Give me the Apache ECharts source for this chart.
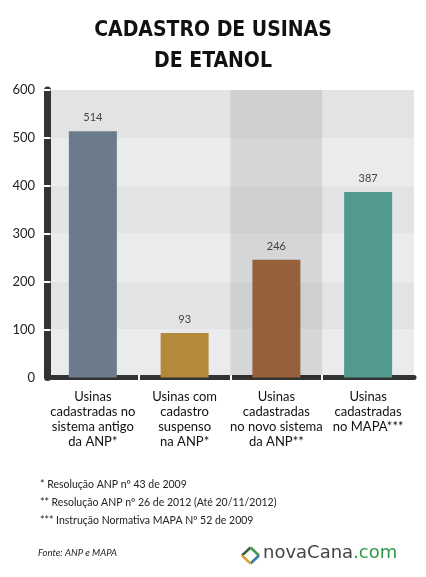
<!DOCTYPE html>
<html>
<head>
<meta charset="utf-8">
<script src="https://cdn.jsdelivr.net/npm/echarts@6/dist/echarts.min.js"></script>
<style>
  html, body { margin: 0; padding: 0; background: #fff; }
  #chart { width: 426px; height: 577px; }
</style>
</head>
<body>
<div id="chart"></div>
<script>
var categories = [
  'Usinas\ncadastradas no\nsistema antigo\nda ANP*',
  'Usinas com\ncadastro\nsuspenso\nna ANP*',
  'Usinas\ncadastradas\nno novo sistema\nda ANP**',
  'Usinas\ncadastradas\nno MAPA***'
];
var values = [514, 93, 246, 387];
var barColors = ['#6c7b8b', '#b5893a', '#96613b', '#529990'];
var yTicks = [0, 100, 200, 300, 400, 500, 600];
var notes = [
  '* Resolução ANP nº 43 de 2009',
  '** Resolução ANP nº 26 de 2012 (Até 20/11/2012)',
  '*** Instrução Normativa MAPA Nº 52 de 2009'
];
var source = 'Fonte: ANP e MAPA';

var chart = echarts.init(document.getElementById('chart'));

var gridLeft = 47, gridBottom = 199.5;
var yLineW = 7, xLineW = 5;

var option = {
  animation: false,
  backgroundColor: '#ffffff',
  title: {
    text: 'CADASTRO DE USINAS\nDE ETANOL',
    left: 'center',
    top: 10,
    textStyle: {
      fontFamily: 'DejaVu Sans Condensed',
      fontWeight: 'bold',
      fontSize: 21,
      lineHeight: 31,
      color: '#111'
    }
  },
  tooltip: {
    trigger: 'axis',
    showContent: false,
    triggerOn: 'none',
    axisPointer: {
      type: 'shadow',
      shadowStyle: { color: 'rgba(0,0,0,0.085)' }
    }
  },
  grid: { left: gridLeft, right: 12, top: 90, bottom: gridBottom },
  xAxis: {
    type: 'category',
    data: categories,
    axisLine: { lineStyle: { color: '#333', width: xLineW } },
    axisTick: { show: false },
    axisLabel: {
      interval: 0,
      margin: 12,
      fontFamily: 'Lato',
      fontSize: 13,
      lineHeight: 15,
      color: '#111'
    }
  },
  yAxis: {
    type: 'value',
    min: yTicks[0],
    max: yTicks[yTicks.length - 1],
    interval: 100,
    axisLine: { show: true, lineStyle: { color: '#333', width: yLineW } },
    axisTick: { show: false },
    axisLabel: {
      margin: 12,
      fontFamily: 'Lato',
      fontSize: 13,
      color: '#222'
    },
    splitLine: { show: false },
    splitArea: {
      show: true,
      areaStyle: { color: ['#eaebed', '#e2e3e5'] }
    }
  },
  series: [
    {
      type: 'bar',
      barWidth: 48,
      data: values.map(function (v, i) {
        return { value: v, itemStyle: { color: barColors[i] } };
      }),
      label: {
        show: true,
        position: 'top',
        distance: 8,
        fontFamily: 'Lato',
        fontSize: 11,
        color: '#444'
      }
    }
  ],
  graphic: [
    { type: 'text', left: 40, top: 479, style: { text: notes[0], font: '10.5px Lato', fill: '#222' } },
    { type: 'text', left: 40, top: 497, style: { text: notes[1], font: '10.5px Lato', fill: '#222' } },
    { type: 'text', left: 40, top: 515, style: { text: notes[2], font: '10.5px Lato', fill: '#222' } },
    { type: 'text', left: 38, top: 548, style: { text: source, font: 'italic 9.5px Lato', fill: '#222' } },
    { type: 'line', shape: { x1: 242, y1: 555.5, x2: 250.5, y2: 547.5 }, style: { stroke: '#3d5c44', lineWidth: 2.5 } },
    { type: 'line', shape: { x1: 250.5, y1: 547.5, x2: 259, y2: 555.5 }, style: { stroke: '#3a9a4a', lineWidth: 2.5 } },
    { type: 'line', shape: { x1: 259, y1: 555.5, x2: 250.5, y2: 563.5 }, style: { stroke: '#2f7ea0', lineWidth: 2.5 } },
    { type: 'line', shape: { x1: 250.5, y1: 563.5, x2: 242, y2: 555.5 }, style: { stroke: '#e0a030', lineWidth: 2.5 } },
    {
      type: 'text', left: 263, top: 544,
      style: {
        text: '{a|novaCana}{b|.com}',
        rich: {
          a: { fontFamily: 'DejaVu Sans', fontSize: 18, fill: '#444' },
          b: { fontFamily: 'DejaVu Sans', fontSize: 18, fill: '#2e9a4c' }
        }
      }
    }
  ]
};

chart.setOption(option);

// white notches cut into the thick axis lines, placed from the axes' own scales
var notches = [];
var axisY = 577 - gridBottom;
yTicks.slice(1).forEach(function (t) {
  var py = Math.round(chart.convertToPixel({ yAxisIndex: 0 }, t));
  notches.push({
    type: 'line', z: 100, silent: true,
    shape: { x1: gridLeft - yLineW / 2, y1: py, x2: gridLeft + yLineW / 2, y2: py },
    style: { stroke: '#fff', lineWidth: 2 }
  });
});
for (var i = 0; i < categories.length - 1; i++) {
  var a = chart.convertToPixel({ xAxisIndex: 0 }, i);
  var b = chart.convertToPixel({ xAxisIndex: 0 }, i + 1);
  var px = Math.round((a + b) / 2);
  notches.push({
    type: 'line', z: 100, silent: true,
    shape: { x1: px, y1: axisY - xLineW / 2, x2: px, y2: axisY + xLineW / 2 },
    style: { stroke: '#fff', lineWidth: 2 }
  });
}
chart.setOption({ graphic: option.graphic.concat(notches) });

chart.dispatchAction({ type: 'showTip', seriesIndex: 0, dataIndex: 2 });
</script>
</body>
</html>
